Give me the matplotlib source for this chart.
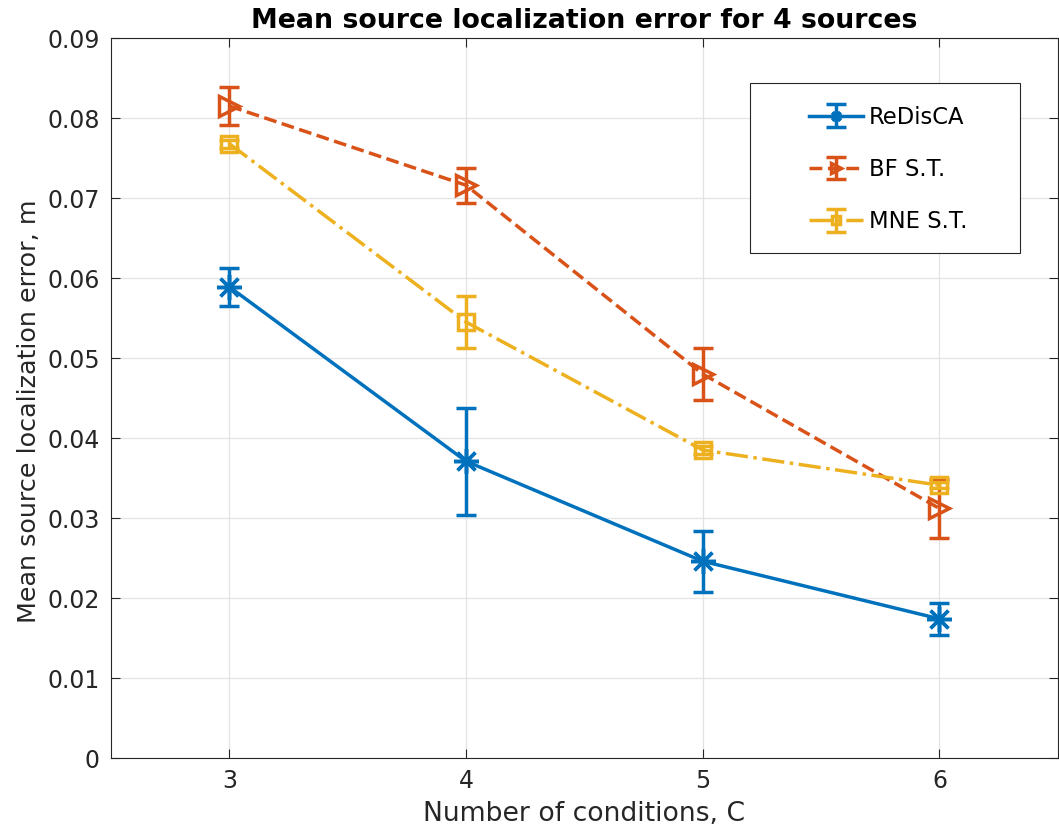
import matplotlib
matplotlib.use("Agg")
import matplotlib.pyplot as plt
from matplotlib.patches import Rectangle

# data
conditions = [3, 4, 5, 6]

redisca_mean = [0.0589, 0.0371, 0.0246, 0.0174]
redisca_err = [0.0024, 0.0067, 0.0038, 0.0020]

bf_mean = [0.0815, 0.0716, 0.0480, 0.0312]
bf_err = [0.0024, 0.0022, 0.0033, 0.0037]

mne_mean = [0.0768, 0.0545, 0.0385, 0.0341]
mne_err = [0.0005, 0.0033, 0.0005, 0.0004]

series_names = ["ReDisCA", "BF S.T.", "MNE S.T."]
y_ticks = [0, 0.01, 0.02, 0.03, 0.04, 0.05, 0.06, 0.07, 0.08, 0.09]

plt.rcParams["font.family"] = ["DejaVu Sans"]

fig = plt.figure(figsize=(10.59, 8.32), dpi=100)
ax = fig.add_axes([0.1048, 0.0889, 0.894, 0.8654])

# MATLAB default colour order, asterisk / open triangle / open square
styles = [
    (redisca_mean, redisca_err, "#0072BD", "-", (8, 2, 0), 18),
    (bf_mean, bf_err, "#D95319", "--", ">", 15),
    (mne_mean, mne_err, "#EDB120", "-.", "s", 12),
]

for (mean, err, color, ls, marker, ms), name in zip(styles, series_names):
    eb = ax.errorbar(
        conditions,
        mean,
        yerr=err,
        color=color,
        linestyle=ls,
        linewidth=2.5,
        marker=marker,
        markersize=ms,
        markerfacecolor="none",
        markeredgecolor=color,
        markeredgewidth=2.5,
        elinewidth=2.5,
        capsize=7,
        capthick=2.5,
        label=name,
        zorder=3,
    )
    eb[-1][0].set_linestyle("-")

ax.set_xlim(2.5, 6.5)
ax.set_ylim(0, 0.09)
ax.set_xticks(conditions)
ax.set_yticks(y_ticks)
ax.set_yticklabels(["0"] + [f"{v:.2f}" for v in y_ticks[1:]])
ax.tick_params(direction="in", labelsize=17, colors="#262626", length=6.5,
               top=True, right=True, pad=8)
ax.grid(True, color="#e3e3e3", linewidth=0.9)
ax.set_axisbelow(True)
for sp in ax.spines.values():
    sp.set_color("#262626")
    sp.set_linewidth(0.8)

ax.set_xlabel("Number of conditions, C", fontsize=19.2, color="#262626", labelpad=6)
ax.set_ylabel("Mean source localization error, m", fontsize=18.3, color="#262626")
ax.yaxis.set_label_coords(-0.074, 0.481)
ax.set_title("Mean source localization error for 4 sources", fontsize=19.3,
             fontweight="bold", color="black", pad=7)

# legend frame drawn by hand so its width matches the reference box
ax.add_patch(Rectangle((0.675, 0.701), 0.285, 0.2365, transform=ax.transAxes,
                       facecolor="white", edgecolor="#262626", linewidth=0.8,
                       zorder=4))
leg = ax.legend(
    loc="upper left",
    bbox_to_anchor=(0.725, 0.922),
    fontsize=16.3,
    frameon=False,
    handlelength=2.4,
    handletextpad=0.25,
    labelspacing=1.3,
    borderpad=0.0,
    markerscale=0.45,
)
leg.set_zorder(5)

fig.savefig("out.png", dpi=100)
